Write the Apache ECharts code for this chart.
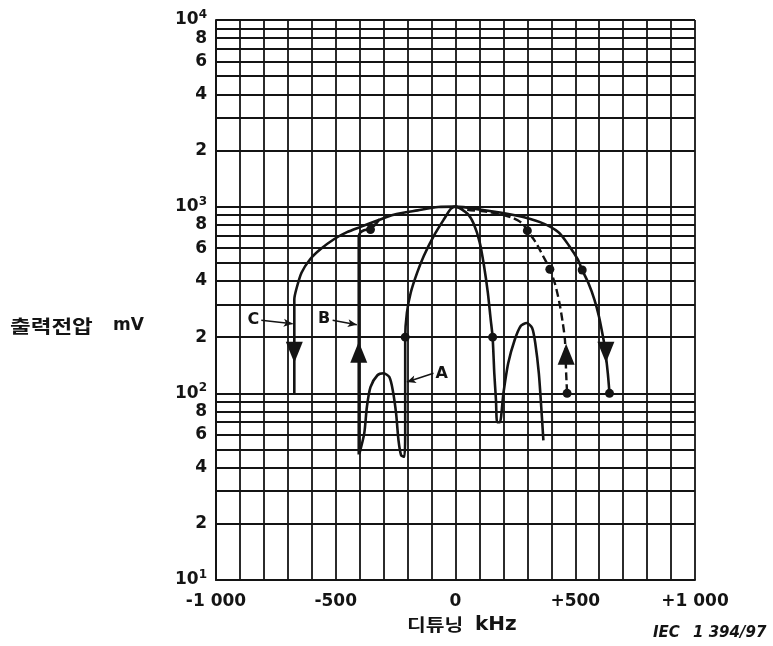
<!DOCTYPE html>
<html>
<head>
<meta charset="utf-8">
<script src="https://cdn.jsdelivr.net/npm/echarts@6/dist/echarts.min.js"></script>
<style>
  html, body { margin: 0; padding: 0; background: #ffffff; }
  #chart { width: 773px; height: 646px; }
</style>
</head>
<body>
<div id="chart"></div>
<script>
// Detuning in kHz against output voltage in mV
const xLabelTicks = [-1000, -500, 0, 500, 1000];
const yMinorGrid = [20, 30, 40, 50, 60, 70, 80, 90,
                    200, 300, 400, 500, 600, 700, 800, 900,
                    2000, 3000, 4000, 5000, 6000, 7000, 8000, 9000];
const yMinorLabels = [20, 40, 60, 80, 200, 400, 600, 800, 2000, 4000, 6000, 8000];

// curve A: selectivity with side lobes
const curveA = [
  [-401, 47.6], [-381, 61], [-370, 84.5], [-355, 108], [-326, 125], [-300, 128],
  [-276, 122], [-262, 104], [-248, 78], [-238, 56], [-227, 46.6], [-214, 45.7],
  [-210, 61], [-210, 120], [-210, 200], [-203, 270], [-187, 346], [-160, 443],
  [-132, 546], [-90, 700], [-47, 861], [-19, 975], [0, 1000],
  [50, 916], [76, 809], [101, 644], [119, 482], [135, 346], [147, 248], [155, 200],
  [162, 128], [169, 92], [174, 70], [185, 70], [200, 100], [220, 145], [247, 193],
  [273, 230], [297, 238], [320, 224], [333, 186], [348, 128], [358, 84.5], [367, 56]
];
// curve B: rising branch, joins C
const curveB = [
  [-404, 47], [-404, 150], [-404, 400], [-404, 690], [-398, 725], [-382, 748],
  [-360, 758], [-340, 790], [-318, 855]
];
// curve B: right branch (dashed)
const curveBRight = [
  [0, 1000], [50, 963], [141, 936], [230, 879], [277, 818], [300, 744], [335, 644],
  [365, 546], [394, 462], [416, 384], [434, 305], [448, 238], [457, 193], [462, 128], [466, 100]
];
// curve C: outer envelope
const curveC = [
  [-673, 100], [-673, 200], [-673, 318], [-665, 360], [-643, 443], [-607, 523],
  [-563, 593], [-506, 671], [-453, 730], [-399, 777], [-326, 843], [-258, 905],
  [-158, 955], [-72, 996], [0, 1000], [101, 966], [253, 897], [353, 826], [430, 730],
  [474, 618], [510, 523], [529, 458], [554, 392], [580, 318], [599, 258], [613, 210],
  [623, 178], [636, 128], [643, 100]
];
const dots = [[-355, 754], [-210, 200], [155, 200], [300, 744], [394, 462], [466, 100], [529, 458], [643, 100]];
const arrowsUp = [[-404, 166], [462, 162]];
const arrowsDown = [[-673, 166], [628, 166]];
const curveNames = ['C', 'B', 'A'];

const INK = '#141414';
const NUM_FONT = 'DejaVu Sans';

function xLabel(v) {
  if (v === 0) return '0';
  const s = String(Math.abs(v)).replace(/\B(?=(\d{3})+(?!\d))/g, ' ');
  return (v > 0 ? '+' : '-') + s;
}

const gridLineStyle = { color: INK, width: 1.8, type: 'solid' };
const solidInk = { color: INK, opacity: 1 };

const minorLines = yMinorGrid.map(v => ({
  yAxis: v,
  label: {
    show: yMinorLabels.indexOf(v) >= 0,
    formatter: String(v).charAt(0)
  }
}));

const nameSpots = {
  C: [-844, 248],
  B: [-549, 250],
  A: [-58, 127]
};
const leaders = [
  [[-811, 246], [-680, 236]],
  [[-513, 246], [-412, 233]],
  [[-92, 128], [-203, 115]]
];

const chart = echarts.init(document.getElementById('chart'));
chart.setOption({
  animation: false,
  backgroundColor: '#ffffff',
  grid: { left: 216, right: 78, top: 20, bottom: 66 },
  xAxis: {
    type: 'value', min: -1000, max: 1000, interval: 100,
    axisLine: { show: true, lineStyle: { color: INK, width: 2 } },
    axisTick: { show: false },
    splitLine: { show: true, lineStyle: gridLineStyle },
    axisLabel: {
      customValues: xLabelTicks,
      formatter: xLabel,
      color: INK, fontFamily: NUM_FONT, fontWeight: 'bold', fontSize: 17, margin: 13
    }
  },
  yAxis: {
    type: 'log', logBase: 10, min: 10, max: 10000,
    axisLine: { show: true, onZero: false, lineStyle: { color: INK, width: 2 } },
    axisTick: { show: false },
    splitLine: { show: true, lineStyle: gridLineStyle },
    axisLabel: {
      margin: 9,
      formatter: v => '{b|10}{s|' + Math.round(Math.log10(v)) + '}',
      rich: {
        b: { fontFamily: NUM_FONT, fontWeight: 'bold', fontSize: 17, color: INK, lineHeight: 22 },
        s: { fontFamily: NUM_FONT, fontWeight: 'bold', fontSize: 12, color: INK, lineHeight: 12, verticalAlign: 'top' }
      }
    }
  },
  series: [
    {
      name: 'minor grid', type: 'line', data: [], z: 1, silent: true,
      markLine: {
        silent: true, symbol: ['none', 'none'], animation: false,
        lineStyle: gridLineStyle,
        label: {
          position: 'start', distance: 9, color: INK,
          fontFamily: NUM_FONT, fontWeight: 'bold', fontSize: 17
        },
        data: minorLines
      }
    },
    {
      name: 'A', type: 'line', data: curveA, z: 3, showSymbol: false, smooth: 0.25,
      lineStyle: { color: INK, width: 2.6 }
    },
    {
      name: 'B', type: 'line', data: curveB, z: 3, showSymbol: false, smooth: 0.25,
      lineStyle: { color: INK, width: 2.6 }
    },
    {
      name: 'B right', type: 'line', data: curveBRight, z: 3, showSymbol: false, smooth: 0.25,
      lineStyle: { color: INK, width: 2.4, type: [8, 4] }
    },
    {
      name: 'C', type: 'line', data: curveC, z: 3, showSymbol: false, smooth: 0.25,
      lineStyle: { color: INK, width: 2.6 }
    },
    {
      name: 'dots', type: 'scatter', data: dots, z: 4,
      symbol: 'circle', symbolSize: 9, itemStyle: solidInk
    },
    {
      name: 'rising', type: 'scatter', data: arrowsUp, z: 4,
      symbol: 'triangle', symbolSize: [17, 21], itemStyle: solidInk
    },
    {
      name: 'falling', type: 'scatter', data: arrowsDown, z: 4,
      symbol: 'triangle', symbolRotate: 180, symbolSize: [17, 21], itemStyle: solidInk
    },
    {
      name: 'curve names', type: 'scatter', z: 4, symbolSize: 0, itemStyle: solidInk,
      data: curveNames.map(n => ({ name: n, value: nameSpots[n] })),
      label: {
        show: true, position: 'inside', formatter: '{b}', color: INK,
        fontFamily: NUM_FONT, fontWeight: 'bold', fontSize: 16
      },
      markLine: {
        silent: true, symbol: ['none', 'arrow'], symbolSize: [6, 9],
        lineStyle: { color: INK, width: 1.5, type: 'solid', opacity: 1 },
        label: { show: false },
        data: leaders.map(p => [{ coord: p[0] }, { coord: p[1] }])
      }
    }
  ],
  graphic: [
    {
      type: 'text', x: 10, y: 326, scaleX: 1.25,
      style: { text: '출력전압', fontFamily: 'Noto Sans CJK KR', fontWeight: 'bold', fontSize: 18,
               fill: INK, textAlign: 'left', textVerticalAlign: 'middle' }
    },
    {
      type: 'text', x: 113, y: 326,
      style: { text: 'mV', fontFamily: NUM_FONT, fontWeight: 'bold', fontSize: 17,
               fill: INK, textAlign: 'left', textVerticalAlign: 'middle' }
    },
    {
      type: 'text', x: 407, y: 625, scaleX: 1.2,
      style: { text: '디튜닝', fontFamily: 'Noto Sans CJK KR', fontWeight: 'bold', fontSize: 17,
               fill: INK, textAlign: 'left', textVerticalAlign: 'middle' }
    },
    {
      type: 'text', x: 475, y: 625,
      style: { text: 'kHz', fontFamily: NUM_FONT, fontWeight: 'bold', fontSize: 20,
               fill: INK, textAlign: 'left', textVerticalAlign: 'middle' }
    },
    {
      type: 'text', x: 653, y: 633,
      style: { text: 'IEC', fontFamily: NUM_FONT, fontWeight: 'bold', fontStyle: 'italic', fontSize: 15,
               fill: INK, textAlign: 'left', textVerticalAlign: 'middle' }
    },
    {
      type: 'text', x: 693, y: 633,
      style: { text: '1 394/97', fontFamily: NUM_FONT, fontWeight: 'bold', fontStyle: 'italic', fontSize: 15,
               fill: INK, textAlign: 'left', textVerticalAlign: 'middle' }
    }
  ]
});
</script>
</body>
</html>
